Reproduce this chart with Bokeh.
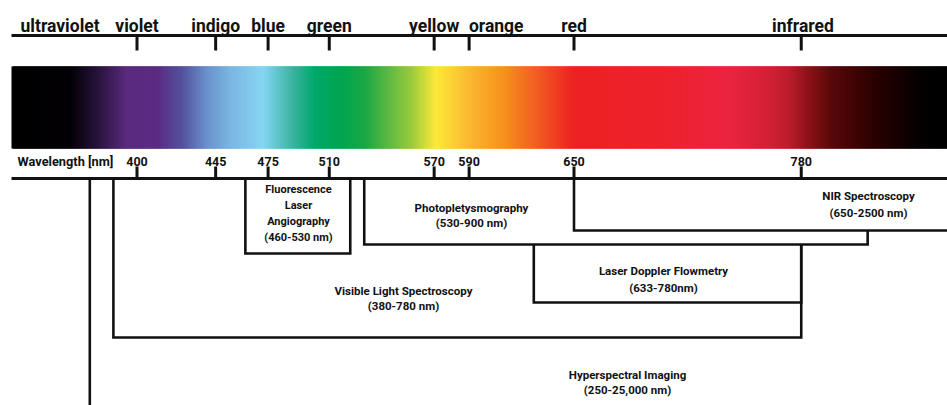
import numpy as np
from bokeh.plotting import figure
from bokeh.models import Range1d
from bokeh.core.properties import value
from bokeh.embed import file_html
from bokeh.resources import INLINE

# ---------------- data ----------------
band_names = ["ultraviolet", "violet", "indigo", "blue", "green", "yellow", "orange", "red", "infrared"]
band_label_nm = [356, 400, 445, 475, 510, 570, 605.5, 650, 781]
band_tick_nm = [400, 445, 475, 510, 570, 590, 650, 780]

tick_values = [400, 445, 475, 510, 570, 590, 650, 780]
tick_labels = ["400", "445", "475", "510", "570", "590", "650", "780"]

techniques = ["Hyperspectral Imaging", "Visible Light Spectroscopy", "Fluorescence Laser Angiography",
              "Photopletysmography", "Laser Doppler Flowmetry", "NIR Spectroscopy"]
technique_ranges = ["(250-25,000 nm)", "(380-780 nm)", "(460-530 nm)",
                    "(530-900 nm)", "(633-780nm)", "(650-2500 nm)"]
# drawn extents (nm)
span_start = [373, 386.5, 462, 530, 627, 650]
span_end = [None, 780, 522, 818, 780, 864]

# spectrum colour stops (nm, colour)
spec_nm = [326, 362, 378, 394, 412, 426, 440, 453, 472, 488, 502, 516, 530, 545, 557, 571,
           592, 609, 626, 650, 700, 737, 760, 772, 785, 797, 823, 848, 864]
spec_col = ["#000000", "#040206", "#2a1540", "#5c2a80", "#5b2d84", "#55539f", "#6a92cc", "#7ab6e2",
            "#86d6f4", "#3fb6a6", "#00a86a", "#00a651", "#1aa845", "#62bb42", "#9bcb3c", "#fde93a",
            "#fbb431", "#f7941d", "#f26522", "#ed2224", "#ee232c", "#ec2540", "#d52236", "#be1e2d",
            "#8a1218", "#5a0a0a", "#2a0101", "#050000", "#000000"]

# ---------------- layout ----------------
PX400, SCALE = 136.5, 1.748   # reference pixel of 400 nm, px per nm
def nm(px):
    return 400 + (px - PX400) / SCALE

FONT = value("Roboto")
INK = "#111111"

W, H = 947, 405
p = figure(width=W, height=H, output_backend="svg", toolbar_location=None,
           x_range=Range1d(nm(0), nm(947)), y_range=Range1d(405, 0),
           x_axis_type=None, y_axis_type=None,
           min_border=0, min_border_left=0, min_border_right=0,
           min_border_top=0, min_border_bottom=0)
p.grid.visible = False
p.outline_line_color = None
p.background_fill_color = "white"
p.border_fill_color = "white"

# spectrum
def hex2rgb(h):
    return [int(h[i:i + 2], 16) for i in (1, 3, 5)]
rgb = np.array([hex2rgb(c) for c in spec_col], dtype=float)
step = 0.5
edges = np.arange(nm(11), nm(947) + step, step)
mids = edges[:-1] + step / 2
cols = []
for m in mids:
    r, g, b = (np.interp(m, spec_nm, rgb[:, k]) for k in range(3))
    cols.append("#%02x%02x%02x" % (int(r), int(g), int(b)))
rights = np.minimum(edges[1:] + 2 * step, nm(947))
p.quad(left=edges[:-1], right=rights, top=66, bottom=148, fill_color=cols, line_color=None)

# axis lines
x_left = nm(11)
x_right = nm(947)
p.segment(x0=[x_left, x_left], y0=[35, 178], x1=[x_right, x_right], y1=[35, 178], line_color=INK, line_width=3)

# top ticks & labels
p.segment(x0=band_tick_nm, y0=[35] * len(band_tick_nm), x1=band_tick_nm, y1=[50] * len(band_tick_nm),
          line_color=INK, line_width=3)
p.text(x=band_label_nm, y=[25] * len(band_names), text=band_names, text_font=FONT,
       text_font_style="bold", text_font_size="17.5px", text_align="center",
       text_baseline="middle", text_color=INK)

# bottom ticks & labels
p.segment(x0=tick_values, y0=[166] * len(tick_values), x1=tick_values, y1=[178] * len(tick_values),
          line_color=INK, line_width=3)
p.text(x=tick_values, y=[160.5] * len(tick_values), text=tick_labels, text_font=FONT,
       text_font_style="bold", text_font_size="12.5px", text_align="center",
       text_baseline="middle", text_color=INK)
p.text(x=[nm(17)], y=[160.5], text=["Wavelength [nm]"], text_font=FONT,
       text_font_style="bold", text_font_size="12.8px", text_align="left",
       text_baseline="middle", text_color=INK)

# brackets
hy, vi, fl, ph, ld, ni = range(6)
paths = [
    ([span_start[hy], span_start[hy]], [178, 410]),
    ([span_start[vi], span_start[vi], span_end[vi], span_end[vi]], [178, 337, 337, 244]),
    ([span_start[fl], span_start[fl], span_end[fl], span_end[fl]], [178, 253, 253, 178]),
    ([span_start[ph], span_start[ph], span_end[ph], span_end[ph]], [178, 244, 244, 230]),
    ([span_start[ld], span_start[ld], span_end[ld], span_end[ld]], [244, 302, 302, 244]),
    ([span_start[ni], span_start[ni], span_end[ni]], [178, 230, 230]),
]
p.multi_line(xs=[a for a, b in paths], ys=[b for a, b in paths], line_color=INK,
             line_width=2.6, line_join="miter")

# technique labels (lines of text)
label_lines = [
    (["Hyperspectral Imaging", technique_ranges[hy]], nm(627), [374, 389], "11.5px"),
    (["Visible Light Spectroscopy", technique_ranges[vi]], nm(403), [290, 305], "11.5px"),
    (["Fluorescence", "Laser", "Angiography", technique_ranges[fl]], nm(298), [189, 205, 221, 237], "11px"),
    (["Photopletysmography", technique_ranges[ph]], nm(471), [207, 222], "11.5px"),
    (["Laser Doppler Flowmetry", technique_ranges[ld]], nm(663), [270, 287], "11.5px"),
    (["NIR Spectroscopy", technique_ranges[ni]], nm(868), [195, 212], "11.5px"),
]
for lines, xc, ys, fs in label_lines:
    p.text(x=[xc] * len(lines), y=ys, text=lines, text_font=FONT, text_font_style="bold",
           text_font_size=fs, text_align="center", text_baseline="middle", text_color=INK)

open("out.html", "w").write(file_html(p, INLINE))
